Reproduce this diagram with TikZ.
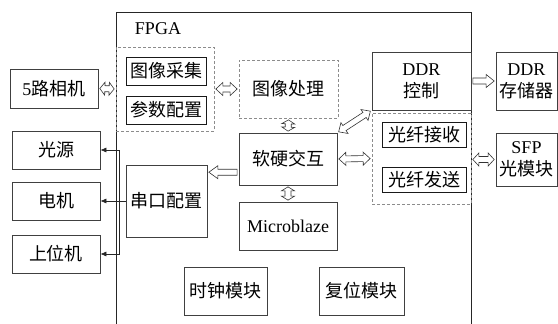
\documentclass[tikz,border=0pt]{standalone}
\usepackage{fontspec}
\setmainfont{Liberation Serif}
\newfontfamily\cjk{Noto Sans CJK SC}
\newcommand{\zh}[1]{{\cjk #1}}
\usepackage{tikz}
\usetikzlibrary{arrows.meta, calc}
\tikzstyle{box} = [
    rectangle, text centered, align=center,
    inner sep=0pt,
    draw=black!75,
    line width=0.7pt,
]
\tikzstyle{subbox} = [
    box,
    draw=black!90,
    line width=1pt,
]
\tikzstyle{group} = [
    rectangle, inner sep=0pt,
    draw=black!45,
    densely dashed,
    line width=0.7pt,
]
\tikzstyle{hollow} = [draw=black!80, fill=white, line width=0.6pt, line join=miter]
\tikzstyle{arrow} = [->, >={Latex[length=6pt,width=5pt]}, line width=0.7pt, draw=black!85]

% wide hollow arrow with a head at both ends, #1 = head length
\newcommand{\biarrow}[3][7pt]{%
    \coordinate (wa) at ($(#2)!1.5pt!(#3)$);
    \coordinate (wb) at ($(#3)!1.5pt!(#2)$);
    \coordinate (ha) at ($(wa)!#1!(wb)$);
    \coordinate (hb) at ($(wb)!#1!(wa)$);
    \draw [hollow] (wa) -- ($(ha)!6.5pt!90:(wb)$) -- ($(ha)!3pt!90:(wb)$)
        -- ($(hb)!3pt!-90:(wa)$) -- ($(hb)!6.5pt!-90:(wa)$) -- (wb)
        -- ($(hb)!6.5pt!90:(wa)$) -- ($(hb)!3pt!90:(wa)$)
        -- ($(ha)!3pt!-90:(wb)$) -- ($(ha)!6.5pt!-90:(wb)$) -- cycle;
}
% wide hollow arrow with one head
\newcommand{\onearrow}[3][8pt]{%
    \coordinate (wa) at ($(#2)!1.5pt!(#3)$);
    \coordinate (wb) at ($(#3)!1.5pt!(#2)$);
    \coordinate (hb) at ($(wb)!#1!(wa)$);
    \draw [hollow] ($(wa)!3pt!90:(wb)$) -- ($(hb)!3pt!-90:(wa)$)
        -- ($(hb)!6.5pt!-90:(wa)$) -- (wb)
        -- ($(hb)!6.5pt!90:(wa)$) -- ($(hb)!3pt!90:(wa)$)
        -- ($(wa)!3pt!-90:(wb)$) -- cycle;
}

\begin{document}
\begin{tikzpicture}[x=1pt, y=-1pt, font=\fontsize{18}{22}\selectfont]
    \useasboundingbox (0,0) rectangle (558,324);

    % fpga frame
    \draw [line width=0.8pt, black!85] (116,324) -- (116,12) -- (471,12) -- (471,324);
    \node (fpga) at (158,29) {FPGA};

    % groups
    \node (acqgrp) at (165,89) [group, minimum width=98, minimum height=84] {};
    \node (proc) at (288.5,89) [group, minimum width=99, minimum height=58] {\zh{图像处理}};
    \node (fibergrp) at (421.5,158.5) [group, minimum width=99, minimum height=91] {};

    % blocks inside the fpga
    \node (capture) at (166,71) [subbox, minimum width=80, minimum height=28] {\zh{图像采集}};
    \node (param) at (166,110) [subbox, minimum width=80, minimum height=28] {\zh{参数配置}};
    \node (ddrctl) at (421.5,81) [box, minimum width=99, minimum height=58] {DDR\\\zh{控制}};
    \node (rx) at (424,135) [subbox, minimum width=84, minimum height=25] {\zh{光纤接收}};
    \node (tx) at (424,179.5) [subbox, minimum width=84, minimum height=25] {\zh{光纤发送}};
    \node (soft) at (288,159) [box, minimum width=98, minimum height=52] {\zh{软硬交互}};
    \node (mb) at (288,226) [box, minimum width=98, minimum height=48] {Microblaze};
    \node (uart) at (166.5,201) [box, minimum width=81, minimum height=72] {\zh{串口配置}};
    \node (clk) at (225.5,291) [box, minimum width=83, minimum height=48] {\zh{时钟模块}};
    \node (rst) at (361.5,291) [box, minimum width=85, minimum height=48] {\zh{复位模块}};

    % outside devices
    \node (cam) at (54,88.5) [box, minimum width=88, minimum height=39] {5\zh{路相机}};
    \node (ddrmem) at (526.5,81) [box, minimum width=61, minimum height=58] {DDR\\\zh{存储器}};
    \node (sfp) at (526.5,159.5) [box, minimum width=61, minimum height=53] {SFP\\\zh{光模块}};
    \node (light) at (56,150) [box, minimum width=88, minimum height=38] {\zh{光源}};
    \node (motor) at (56,201) [box, minimum width=88, minimum height=38] {\zh{电机}};
    \node (host) at (56,254) [box, minimum width=88, minimum height=38] {\zh{上位机}};

    % wide arrows
    \coordinate (sfpin) at (fibergrp.east |- sfp.west);
    \coordinate (uartin) at (soft.195 -| uart.east);
    \biarrow[5pt]{cam.east}{acqgrp.west}
    \biarrow{acqgrp.east}{proc.west}
    \biarrow[4pt]{proc.south}{soft.north}
    \biarrow[4pt]{soft.south}{mb.north}
    \biarrow{soft.north east}{ddrctl.south west}
    \biarrow{soft.east}{fibergrp.west}
    \biarrow[6pt]{sfpin}{sfp.west}
    \onearrow{ddrctl.east}{ddrmem.west}
    \onearrow[9pt]{soft.195}{uartin}

    % serial bus
    \coordinate (tap) at (119,201);
    \draw [arrow] (uart.west) -- (motor.east);
    \draw [arrow] (tap) |- (light.east);
    \draw [arrow] (tap) |- (host.east);
\end{tikzpicture}
\end{document}
